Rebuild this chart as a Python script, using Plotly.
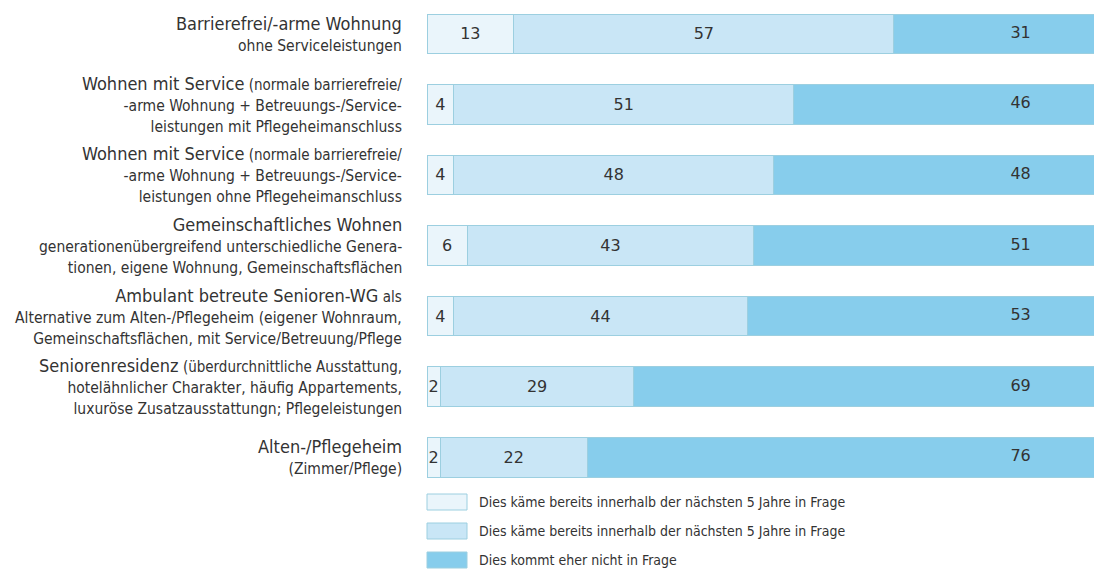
import plotly.graph_objects as go

# ---------------- data ----------------
LABEL_MAIN = [
    "Barrierefrei/-arme Wohnung",
    "Wohnen mit Service",
    "Wohnen mit Service",
    "Gemeinschaftliches Wohnen",
    "Ambulant betreute Senioren-WG",
    "Seniorenresidenz",
    "Alten-/Pflegeheim",
]
LABEL_TAIL = [
    "",
    " (normale barrierefreie/",
    " (normale barrierefreie/",
    "",
    " als",
    " (überdurchnittliche Ausstattung,",
    "",
]
LABEL_SUB = [
    ["ohne Serviceleistungen"],
    ["-arme Wohnung + Betreuungs-/Service-", "leistungen mit Pflegeheimanschluss"],
    ["-arme Wohnung + Betreuungs-/Service-", "leistungen ohne Pflegeheimanschluss"],
    ["generationenübergreifend unterschiedliche Genera-", "tionen, eigene Wohnung, Gemeinschaftsflächen"],
    ["Alternative zum Alten-/Pflegeheim (eigener Wohnraum,", "Gemeinschaftsflächen, mit Service/Betreuung/Pflege"],
    ["hotelähnlicher Charakter, häufig Appartements,", "luxuröse Zusatzausstattungn; Pflegeleistungen"],
    ["(Zimmer/Pflege)"],
]

SERIES_NAMES = [
    "Dies käme bereits innerhalb der nächsten 5 Jahre in Frage",
    "Dies käme bereits innerhalb der nächsten 5 Jahre in Frage",
    "Dies kommt eher nicht in Frage",
]
VALUES_1 = [13, 4, 4, 6, 4, 2, 2]
VALUES_2 = [57, 51, 48, 43, 44, 29, 22]
VALUES_3 = [31, 46, 48, 51, 53, 69, 76]

# ---------------- style ----------------
COLORS = ["#eaf5fb", "#c9e6f6", "#87cdec"]
EDGE = "#9ccfe0"
TEXT = "#333333"
LABEL_FONT = "Liberation Sans Narrow, Arial Narrow, DejaVu Sans Condensed, sans-serif"
NUM_FONT = "DejaVu Sans, Verdana, sans-serif"

W, H = 1094, 569
PLOT_LEFT, PLOT_TOP, PLOT_BOTTOM = 427, 0, 480
RIGHT_LABEL_X = 89  # fixed x (data units) where the last-segment values sit


def py(p):  # pixel row -> paper y
    return (PLOT_BOTTOM - p) / (PLOT_BOTTOM - PLOT_TOP)


def px(p):  # pixel column -> paper x
    return (p - PLOT_LEFT) / (W - PLOT_LEFT)


cats = [f"{m}{t} {' '.join(s)}" for m, t, s in zip(LABEL_MAIN, LABEL_TAIL, LABEL_SUB)]

fig = go.Figure()
series = [VALUES_1, VALUES_2, VALUES_3]
for i, vals in enumerate(series):
    show_text = i < 2
    fig.add_trace(go.Bar(
        y=cats, x=vals, orientation="h", name=SERIES_NAMES[i],
        marker=dict(color=COLORS[i], line=dict(color=EDGE, width=1)),
        width=0.567,
        text=[str(v) for v in vals] if show_text else None,
        textposition="inside" if show_text else "none",
        insidetextanchor="middle",
        constraintext="none",
        textfont=dict(family=NUM_FONT, size=16, color=TEXT),
        showlegend=False, hoverinfo="skip",
    ))

# values of last segment at a fixed column
fig.add_trace(go.Scatter(
    y=cats, x=[RIGHT_LABEL_X] * len(cats), mode="text",
    text=[str(v) for v in VALUES_3],
    textfont=dict(family=NUM_FONT, size=16, color=TEXT),
    textposition="middle center", showlegend=False, hoverinfo="skip",
))

# category labels
annotations = []
for c, m, t, s in zip(cats, LABEL_MAIN, LABEL_TAIL, LABEL_SUB):
    first = f"<span style='font-size:18px'>{m}</span>"
    if t:
        first += f"<span style='font-size:15px'>{t}</span>"
    lines = [first] + [f"<span style='font-size:15.5px'>{x}</span>" for x in s]
    annotations.append(dict(
        xref="paper", yref="y", x=px(404), y=c, xanchor="right", yanchor="middle",
        align="right", showarrow=False, text="<br>".join(lines),
        font=dict(family=LABEL_FONT, size=16, color=TEXT),
    ))

# legend (manual)
shapes = []
leg_rows = [502, 531, 560]
for i, name in enumerate(SERIES_NAMES):
    yc = leg_rows[i]
    shapes.append(dict(
        type="rect", xref="paper", yref="paper",
        x0=px(427), x1=px(467), y0=py(yc - 8), y1=py(yc + 8),
        fillcolor=COLORS[i], line=dict(color=EDGE, width=1),
    ))
    annotations.append(dict(
        xref="paper", yref="paper", x=px(477), y=py(yc), xanchor="left", yanchor="middle",
        showarrow=False, text=name,
        font=dict(family=LABEL_FONT, size=14, color=TEXT),
    ))

fig.update_layout(
    width=W, height=H,
    barmode="stack",
    margin=dict(l=PLOT_LEFT, r=0, t=PLOT_TOP, b=H - PLOT_BOTTOM, pad=0),
    paper_bgcolor="white", plot_bgcolor="white",
    xaxis=dict(range=[0, 100], visible=False, fixedrange=True),
    yaxis=dict(range=[6.326, -0.482], showticklabels=False, showgrid=False,
               zeroline=False, showline=False, ticks="", fixedrange=True),
    annotations=annotations, shapes=shapes,
    uniformtext=dict(mode="show", minsize=16),
)

fig.write_html(
    "out.html",
    config={"displayModeBar": False, "staticPlot": True},
    post_script="document.body.style.margin='0';document.body.style.overflow='hidden';",
)
